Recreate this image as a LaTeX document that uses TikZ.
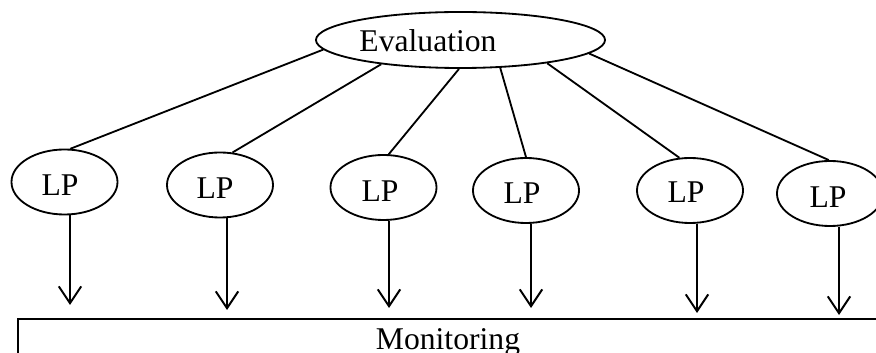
\documentclass[tikz,border=0pt]{standalone}
\usepackage{fontspec}
\setmainfont{Liberation Serif}
\usetikzlibrary{shapes.geometric,arrows.meta}
\begin{document}
\begin{tikzpicture}[x=0.025cm,y=-0.025cm,
  every node/.style={font=\fontsize{22.5}{27}\selectfont},
  oval/.style={ellipse,draw,line width=1.3pt,inner sep=0pt},
  lpoval/.style={oval,minimum width=2.65cm,minimum height=1.625cm},
  word/.style={anchor=base,inner sep=0pt},
  link/.style={line width=1.3pt},
  flow/.style={line width=1.4pt,-{Straight Barb[length=12pt,width=16pt,line width=1.4pt]}}]
\clip (0,0) rectangle (876,353);
\fill[white] (0,0) rectangle (876,353);

% top evaluation node
\node[oval,minimum width=7.225cm,minimum height=1.4cm] (eval) at (460.5,40) {};
\node[word] (evaltxt) at (428,52) {Evaluation};

% learning process nodes
\node[lpoval] (lp1) at (64.5,182) {};
\node[lpoval] (lp2) at (220,185) {};
\node[lpoval] (lp3) at (383.5,187.5) {};
\node[lpoval] (lp4) at (526,190.5) {};
\node[lpoval] (lp5) at (690,190.5) {};
\node[lpoval] (lp6) at (830,193.5) {};
\node[word] (lt1) at (60,196) {LP};
\node[word] (lt2) at (215,199) {LP};
\node[word] (lt3) at (380,202) {LP};
\node[word] (lt4) at (522,204) {LP};
\node[word] (lt5) at (686,203) {LP};
\node[word] (lt6) at (828,208) {LP};

% links from evaluation to each LP
\draw[link] (eval.184) -- (lp1.80);
\draw[link] (eval.197) -- (lp2.69);
\draw[link] (eval.267) -- (lp3.81);
\draw[link] (eval.325) -- (lp4.90);
\draw[link] (eval.345) -- (lp5.108);
\draw[link] (eval.354) -- (lp6.92);

% monitoring bar
\node[draw,line width=1.4pt,rectangle,anchor=north west,minimum width=22cm,minimum height=2cm,inner sep=0pt] (mon) at (17,318) {};
\node[word] (montxt) at (448,350) {Monitoring};

% arrow tips just above the bar
\coordinate (t1) at (70,305);
\coordinate (t2) at (227,310);
\coordinate (t3) at (389,308);
\coordinate (t4) at (531,308);
\coordinate (t5) at (697,313);
\coordinate (t6) at (839,315);
\draw[flow] (lp1.south -| t1) -- (t1);
\draw[flow] (lp2.south -| t2) -- (t2);
\draw[flow] (lp3.south -| t3) -- (t3);
\draw[flow] (lp4.south -| t4) -- (t4);
\draw[flow] (lp5.south -| t5) -- (t5);
\draw[flow] (lp6.south -| t6) -- (t6);
\end{tikzpicture}
\end{document}
